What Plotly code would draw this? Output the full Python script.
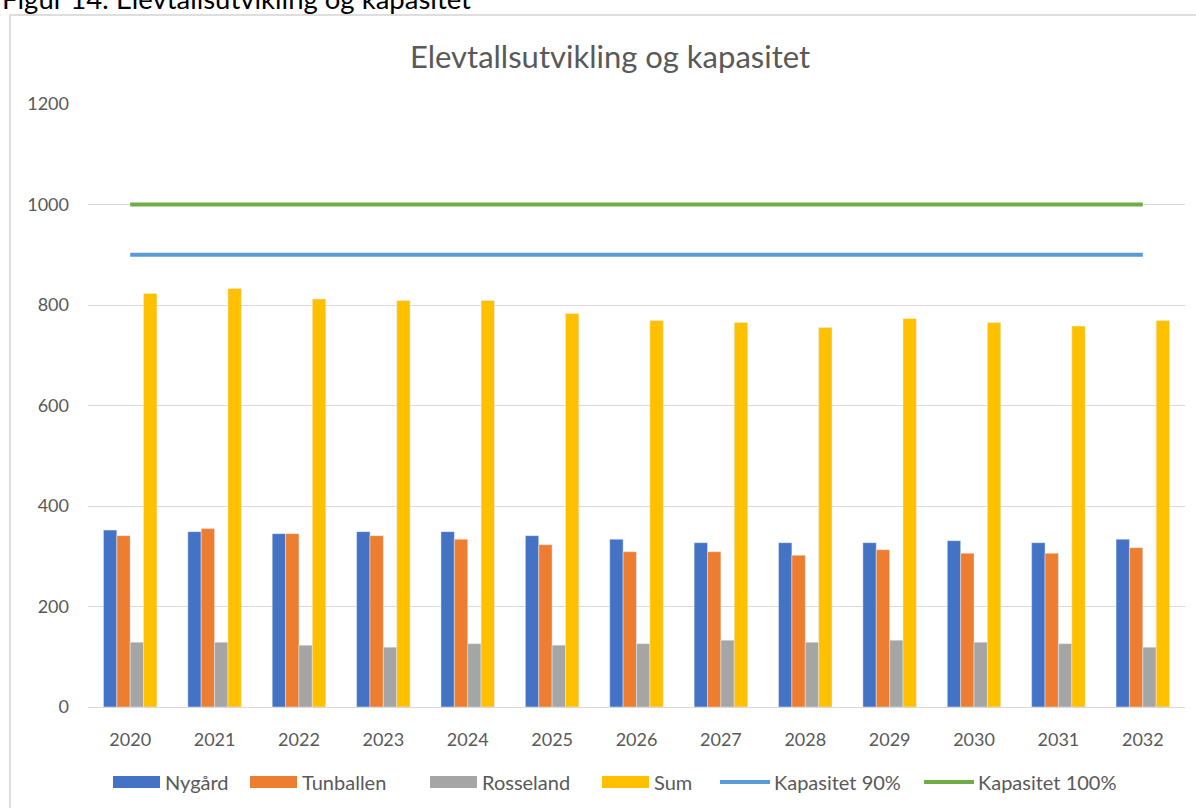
import plotly.graph_objects as go

years = ["2020", "2021", "2022", "2023", "2024", "2025", "2026",
         "2027", "2028", "2029", "2030", "2031", "2032"]
nygard = [352, 349, 345, 349, 349, 341, 334, 327, 327, 327, 331, 327, 334]
tunballen = [341, 355, 345, 341, 334, 323, 309, 309, 302, 313, 306, 306, 317]
rosseland = [129, 129, 123, 119, 126, 123, 126, 133, 129, 133, 129, 126, 119]
sum_total = [823, 833, 812, 809, 809, 783, 769, 765, 755, 773, 765, 758, 769]
kap90 = [900, 900, 900, 900, 900, 900, 900, 900, 900, 900, 900, 900, 900]
kap100 = [1000, 1000, 1000, 1000, 1000, 1000, 1000, 1000, 1000, 1000, 1000, 1000, 1000]

series_names = ["Nygård", "Tunballen", "Rosseland", "Sum", "Kapasitet 90%", "Kapasitet 100%"]
colors = ["#4472C4", "#ED7D31", "#A5A5A5", "#FFC000", "#5B9BD5", "#70AD47"]

FONT = "Lato"
GRAY_TXT = "#595959"
W, H = 1196, 808
ML, MR, MT, MB = 88, 11, 104, 101
PW = W - ML - MR
PH = H - MT - MB


def px_x(x):
    return (x - ML) / PW


def px_y(y):
    return 1 + (MT - y) / PH


fig = go.Figure()
bar_data = [nygard, tunballen, rosseland, sum_total]
for name, vals, col in zip(series_names[:4], bar_data, colors[:4]):
    fig.add_trace(go.Bar(name=name, x=years, y=vals, marker_color=col))
line_data = [kap90, kap100]
for name, vals, col in zip(series_names[4:], line_data, colors[4:]):
    fig.add_trace(go.Scatter(name=name, x=years, y=vals, mode="lines",
                             line=dict(color=col, width=4)))

fig.update_layout(
    width=W, height=H,
    margin=dict(l=ML, r=MR, t=MT, b=MB, autoexpand=False),
    paper_bgcolor="white", plot_bgcolor="white",
    barmode="group", bargap=0.366, bargroupgap=0,
    font=dict(family=FONT, size=18, color=GRAY_TXT),
    title=dict(text="Elevtallsutvikling og kapasitet",
               font=dict(family=FONT, size=31, color=GRAY_TXT),
               xref="paper", x=px_x(610), xanchor="center",
               yref="container", y=1 - 57 / H, yanchor="middle"),
    showlegend=False,
)
fig.update_xaxes(type="category", showgrid=False, showline=True,
                 linecolor="#d9d9d9", linewidth=1, ticks="",
                 ticklabelstandoff=16,
                 tickfont=dict(family=FONT, size=18, color=GRAY_TXT))
fig.update_yaxes(range=[0, 1200], dtick=200, showgrid=True,
                 gridcolor="#d9d9d9", gridwidth=1, zeroline=False,
                 showline=False, ticks="", ticklabelstandoff=18,
                 tickfont=dict(family=FONT, size=18, color=GRAY_TXT))

# chart frame
fig.add_shape(type="rect", xref="paper", yref="paper",
              x0=px_x(10), x1=px_x(1210), y0=px_y(825), y1=px_y(15),
              line=dict(color="#d4d4d4", width=1.5), layer="below")

# legend (Excel style: wide swatches)
legend_starts = [113, 250, 430, 602, 720, 924]
LEG_Y = 782
for i, (name, col, x0) in enumerate(zip(series_names, colors, legend_starts)):
    if i < 4:
        fig.add_shape(type="rect", xref="paper", yref="paper",
                      x0=px_x(x0), x1=px_x(x0 + 47),
                      y0=px_y(LEG_Y + 6), y1=px_y(LEG_Y - 6),
                      fillcolor=col, line=dict(width=0))
        tx = x0 + 50
    else:
        fig.add_shape(type="line", xref="paper", yref="paper",
                      x0=px_x(x0), x1=px_x(x0 + 50),
                      y0=px_y(LEG_Y), y1=px_y(LEG_Y),
                      line=dict(color=col, width=4))
        tx = x0 + 52
    fig.add_annotation(text=name, xref="paper", yref="paper",
                       x=px_x(tx), y=px_y(LEG_Y), xanchor="left",
                       yanchor="middle", showarrow=False,
                       font=dict(family=FONT, size=20, color=GRAY_TXT))

# document caption (cut off at top, as in the source page)
fig.add_annotation(text="Figur 14: Elevtallsutvikling og kapasitet",
                   xref="paper", yref="paper", x=px_x(0), y=px_y(17),
                   xanchor="left", yanchor="bottom", showarrow=False,
                   font=dict(family=FONT, size=27.5, color="#000000"))

fig.write_html(
    "out.html",
    config={"displayModeBar": False},
    post_script="document.body.style.margin='0';document.body.style.overflow='hidden';",
)
